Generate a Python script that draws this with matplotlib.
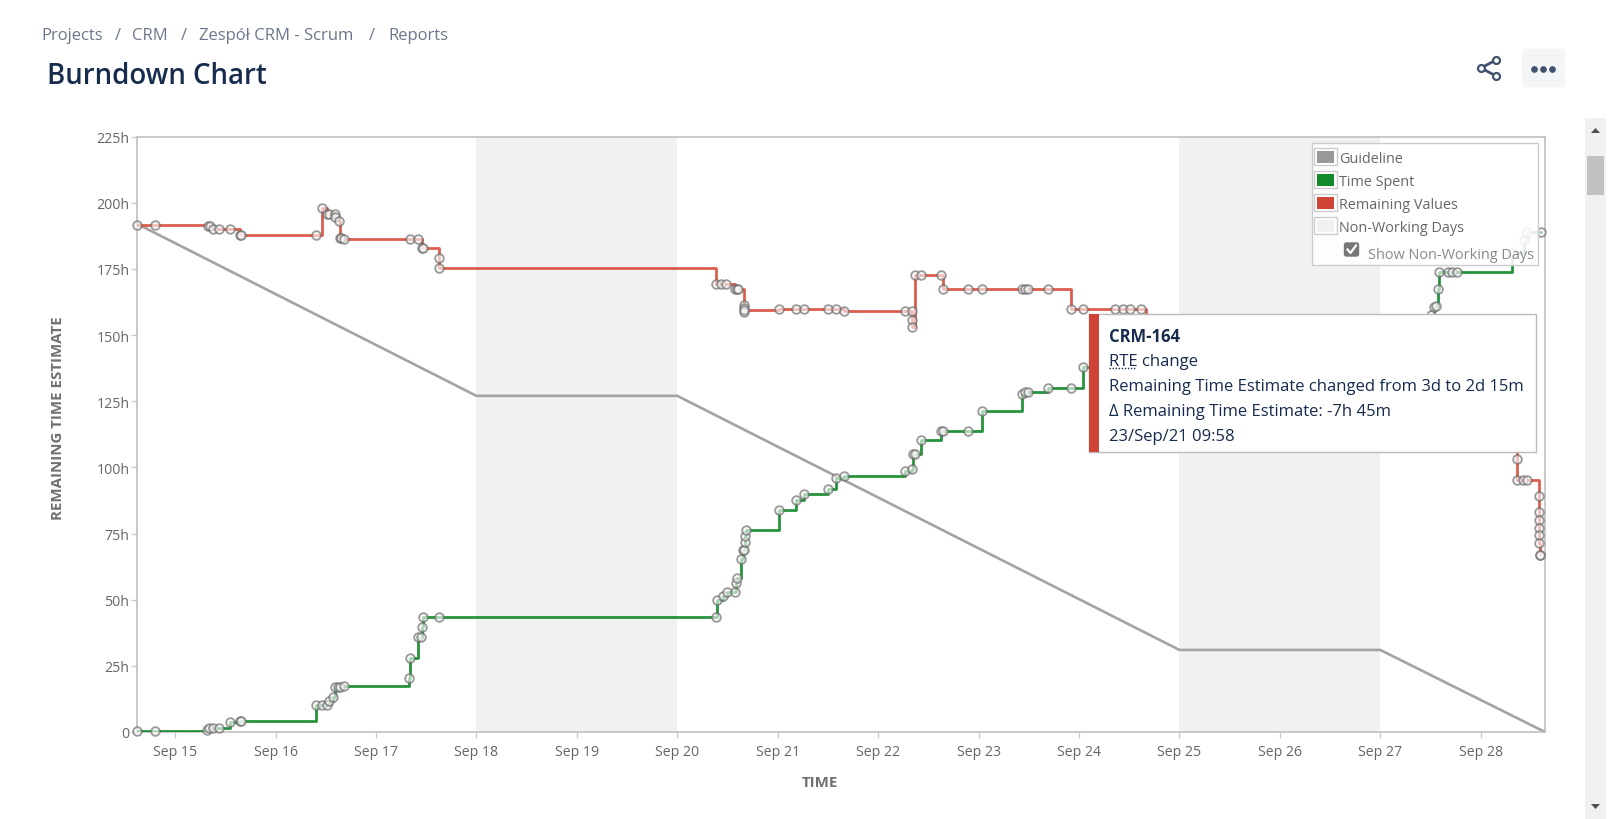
import matplotlib
matplotlib.use('Agg')
import matplotlib.pyplot as plt
from matplotlib.patches import Rectangle, FancyBboxPatch, Polygon

plt.rcParams['font.family'] = ['Open Sans', 'DejaVu Sans']

W, H = 1614, 820

# x is day of September (15.5 = Sep 15 midday), y is hours
guide_days = [14.62, 18, 20, 25, 27, 28.64]
guide_hours = [192, 127, 127, 31, 31, 0]

# the stretch from 24.67 to 28.36 sits behind the tooltip, values there are guesses
remaining_days = [14.62, 14.80, 15.33, 15.35, 15.38, 15.44, 15.55, 15.65, 15.66, 16.40, 16.46, 16.51,
                  16.53, 16.59, 16.59, 16.63, 16.64, 16.65, 16.68, 17.34, 17.42, 17.46, 17.47, 17.63,
                  17.63, 20.39, 20.44, 20.48, 20.57, 20.59, 20.60, 20.66, 20.66, 20.66, 20.66, 21.01,
                  21.18, 21.26, 21.50, 21.58, 21.66, 22.27, 22.34, 22.34, 22.34, 22.37, 22.43, 22.63,
                  22.65, 22.89, 23.03, 23.43, 23.46, 23.49, 23.69, 23.92, 24.04, 24.36, 24.44, 24.51,
                  24.62, 24.67, 28.36, 28.36, 28.42, 28.46, 28.58, 28.58, 28.58, 28.58, 28.58, 28.58,
                  28.59, 28.59]
remaining_hours = [191.6, 191.6, 191.1, 191.1, 190.1, 190.1, 190.1, 187.7, 187.7, 187.8, 197.8, 195.9,
                   195.9, 195.9, 194.5, 192.9, 186.7, 186.7, 186.1, 186.1, 186.1, 183.0, 183.0, 179.1,
                   175.4, 169.4, 169.4, 169.4, 167.4, 167.4, 167.4, 161.5, 160.2, 158.6, 159.6, 159.7,
                   159.7, 159.7, 159.7, 159.7, 159.2, 159.2, 159.2, 155.6, 153.0, 172.7, 172.7, 172.7,
                   167.4, 167.4, 167.4, 167.4, 167.4, 167.4, 167.4, 159.7, 159.7, 159.7, 159.7, 159.7,
                   159.9, 130.0, 103.1, 95.3, 95.3, 95.3, 89.0, 83.3, 80.2, 77.0, 74.5, 71.5, 66.9, 66.9]

# same here, 24.04 to 27.50 is hidden
spent_days = [14.62, 14.80, 15.32, 15.34, 15.38, 15.44, 15.55, 15.65, 15.66, 16.40, 16.46, 16.51, 16.53,
              16.57, 16.59, 16.62, 16.64, 16.68, 17.33, 17.34, 17.42, 17.45, 17.46, 17.47, 17.63, 20.39,
              20.40, 20.46, 20.49, 20.57, 20.58, 20.59, 20.63, 20.65, 20.66, 20.67, 20.67, 20.68, 21.01,
              21.18, 21.26, 21.50, 21.58, 21.66, 22.27, 22.34, 22.35, 22.37, 22.43, 22.63, 22.65, 22.89,
              23.03, 23.43, 23.46, 23.49, 23.69, 23.92, 24.04, 27.50, 27.53, 27.55, 27.57, 27.58, 27.67,
              27.71, 27.76, 28.31, 28.43, 28.46, 28.60]
spent_hours = [0.2, 0.5, 0.6, 1.6, 1.6, 1.6, 3.9, 4.3, 4.3, 10.1, 10.1, 10.1, 11.6,
               13.1, 16.9, 16.9, 17.0, 17.4, 20.3, 28.1, 35.8, 35.8, 39.8, 43.6, 43.6, 43.6,
               49.8, 51.4, 52.9, 52.9, 56.4, 58.0, 65.4, 68.9, 68.9, 71.6, 74.0, 76.3, 84.0,
               87.8, 89.8, 91.8, 95.9, 96.9, 98.8, 99.3, 105.1, 105.1, 110.4, 113.7, 113.7, 113.7,
               121.4, 127.6, 128.3, 128.3, 130.1, 130.1, 137.9, 157.7, 160.4, 161.1, 167.5, 173.9, 173.9,
               173.9, 173.9, 181.0, 185.9, 188.8, 188.8]

nonworking = [(18, 20), (25, 27)]
x_ticks = list(range(15, 29))
x_labels = ['Sep %d' % d for d in x_ticks]
y_ticks = [0, 25, 50, 75, 100, 125, 150, 175, 200, 225]
y_labels = ['0'] + ['%dh' % v for v in y_ticks[1:]]

legend_names = ['Guideline', 'Time Spent', 'Remaining Values', 'Non-Working Days']
legend_colors = ['#999999', '#14892c', '#d04437', '#f0f0f0']

crumbs = ['Projects', '/', 'CRM', '/', 'Zespół CRM - Scrum', '/', 'Reports']
crumb_x = [41.5, 115, 132, 181, 199, 369, 388]
tooltip_lines = ['RTE change',
                 'Remaining Time Estimate changed from 3d to 2d 15m',
                 'Δ Remaining Time Estimate: -7h 45m',
                 '23/Sep/21 09:58']

RED = '#d9503f'
GREEN = '#14892c'
GREY = '#a3a3a3'
NAVY = '#172b4d'

fig = plt.figure(figsize=(W / 100, H / 100), dpi=100)
ax = fig.add_axes([137 / W, 1 - 733 / H, (1545 - 137) / W, (733 - 137.5) / H])

for start, end in nonworking:
    ax.axvspan(start, end, color='#f1f1f1', lw=0, zorder=0)
ax.plot(guide_days, guide_hours, color=GREY, lw=1.9, zorder=2)
ax.plot(spent_days, spent_hours, color=GREEN, lw=2, drawstyle='steps-post', alpha=0.92, zorder=3)
ax.plot(remaining_days, remaining_hours, color=RED, lw=2, drawstyle='steps-post', alpha=0.92, zorder=3)
for xs, ys in [(spent_days, spent_hours), (remaining_days, remaining_hours)]:
    ax.plot(xs, ys, ls='none', marker='o', ms=6.2, mew=1.35, mfc=(1, 1, 1, 0.6),
            mec=(0.4, 0.4, 0.4, 0.65), clip_on=False, zorder=4)

ax.set_xlim(14.62, 28.64)
ax.set_ylim(0, 225)
ax.set_xticks(x_ticks)
ax.set_xticklabels(x_labels)
ax.set_yticks(y_ticks)
ax.set_yticklabels(y_labels)
ax.tick_params(axis='x', length=4, width=1, color='#cccccc', labelcolor='#666666', labelsize=10.2, pad=5)
ax.tick_params(axis='y', length=4, width=1, color='#cccccc', labelcolor='#666666', labelsize=10.2, pad=1.5)
for s in ax.spines.values():
    s.set_color('#bbbbbb')
    s.set_linewidth(1.1)

# page furniture goes on a top layer that works in pixels
ui = fig.add_axes([0, 0, 1, 1], zorder=10)
ui.set_xlim(0, W)
ui.set_ylim(H, 0)
ui.axis('off')

ui.text(58, 418, 'REMAINING TIME ESTIMATE', rotation=90, ha='center', va='center',
        fontsize=10.8, fontweight='bold', color='#707070')
ui.text(820, 783, 'TIME', ha='center', va='center', fontsize=10.8, fontweight='bold', color='#707070')

for x, c in zip(crumb_x, crumbs):
    ui.text(x, 36, c, va='center', fontsize=12, color='#6b778c')
ui.text(47, 76, 'Burndown Chart', va='center', fontsize=19.9, fontweight='semibold', color=NAVY)

# share icon
icon = [(1496, 61), (1481, 69), (1496, 77)]
ui.plot([p[0] for p in icon], [p[1] for p in icon], color='#42526e', lw=2, zorder=1)
ui.plot([p[0] for p in icon], [p[1] for p in icon], ls='none', marker='o', ms=5, mfc='white',
        mec='#42526e', mew=1.6, zorder=2)
# menu button
ui.add_patch(FancyBboxPatch((1523, 51), 41, 36, boxstyle='round,pad=0,rounding_size=3',
                            fc='#f4f5f7', ec='#f4f5f7', lw=2))
ui.plot([1534, 1543, 1552], [70.3, 70.3, 70.3], ls='none', marker='o', ms=3.8, color='#42526e')

# scrollbar
ui.add_patch(Rectangle((1585, 119), 21, H - 119, fc='#f1f1f1', ec='none'))
ui.add_patch(Rectangle((1587, 157), 17, 39, fc='#c1c1c1', ec='none'))
ui.add_patch(Polygon([(1591, 134), (1600, 134), (1595.5, 129)], fc='#505050', ec='none'))
ui.add_patch(Polygon([(1591, 805), (1600, 805), (1595.5, 810)], fc='#505050', ec='none'))

# legend box
ui.add_patch(Rectangle((1311.5, 144.3), 226.3, 122, fc=(1, 1, 1, 0.88), ec='#cccccc', lw=1))
for i, (name, col) in enumerate(zip(legend_names, legend_colors)):
    yc = 157.7 + 23 * i
    ui.add_patch(Rectangle((1314.4, yc - 8.5), 22.3, 17, fc='white', ec='#cccccc', lw=1))
    ui.add_patch(Rectangle((1317, yc - 6), 17, 12, fc=col, ec='none'))
    ui.text(1339.2, yc + 1.5, name, va='center', fontsize=10.4, color='#666666')
ui.add_patch(FancyBboxPatch((1344.5, 244), 14, 13, boxstyle='round,pad=0,rounding_size=2',
                            fc='#767676', ec='#767676', lw=1))
ui.plot([1347.5, 1350.5, 1356], [250.5, 254, 246.5], color='white', lw=1.6)
ui.text(1368, 255.2, 'Show Non-Working Days', va='center', fontsize=10.45, color='#8a8a8a')

# tooltip
ui.add_patch(Rectangle((1088.8, 315.3), 446.8, 137.4, fc='white', ec='#bbbbbb', lw=1, zorder=5))
ui.add_patch(Rectangle((1088.8, 315.3), 10.2, 137.4, fc='#d04437', ec='none', zorder=6))
ui.text(1109, 336.7, 'CRM-164', va='center', fontsize=12, fontweight='bold', color=NAVY, zorder=7)
for i, line in enumerate(tooltip_lines):
    ui.text(1109, 362.5 + 25 * i, line, va='center', fontsize=12, color=NAVY, zorder=7)
ui.plot([1109, 1135], [368.5, 368.5], color=NAVY, lw=1, ls=(0, (1, 1.2)), zorder=7)

fig.savefig('out.png', dpi=100)
